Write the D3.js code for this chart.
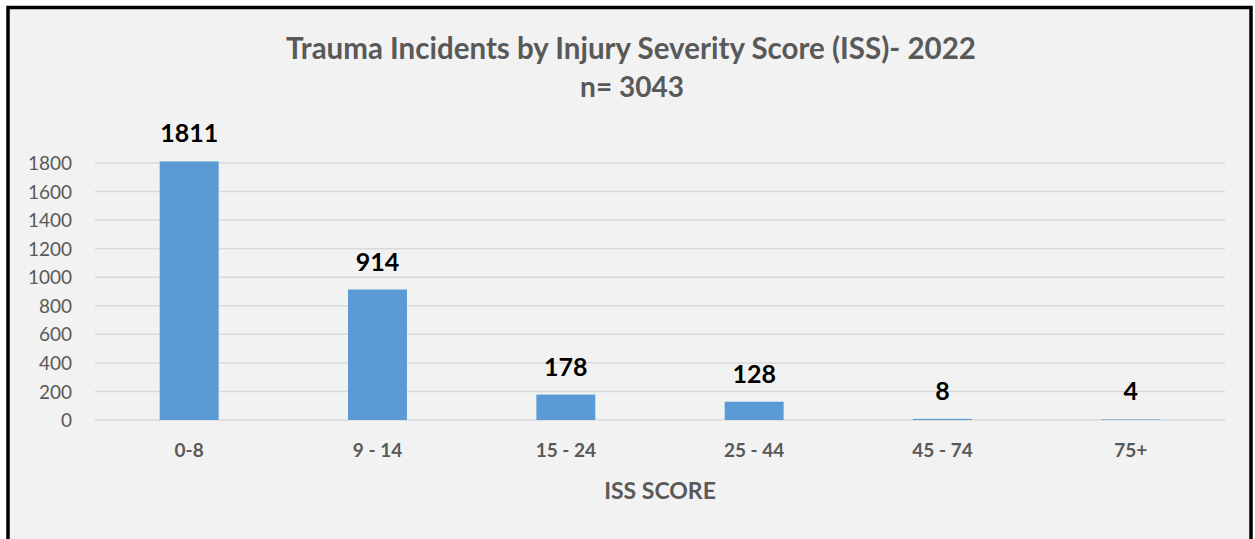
<!DOCTYPE html>
<html>
<head>
<meta charset="utf-8">
<script src="https://cdn.jsdelivr.net/npm/d3@7"></script>
<style>
  body { margin: 0; background: #fff; }
  svg text { font-family: Lato, "Open Sans", sans-serif; }
</style>
</head>
<body>
<div id="chart"></div>
<script>
const categories = ["0-8", "9 - 14", "15 - 24", "25 - 44", "45 - 74", "75+"];
const counts = [1811, 914, 178, 128, 8, 4];
const yTicks = [0, 200, 400, 600, 800, 1000, 1200, 1400, 1600, 1800];
const titleLine1 = "Trauma Incidents by Injury Severity Score (ISS)- 2022";
const titleLine2 = "n= 3043";
const xTitle = "ISS SCORE";

const W = 1255, H = 539;
const margin = {left: 95, right: 30, top: 163, bottom: 119}; // plot 95..1225, 163..420

const svg = d3.select("#chart").append("svg")
  .attr("width", W)
  .attr("height", H);

// chart frame
svg.append("rect")
  .attr("x", 8).attr("y", 7.5)
  .attr("width", 1243).attr("height", 540)
  .attr("fill", "#f2f2f2")
  .attr("stroke", "#000")
  .attr("stroke-width", 3.5);

const x = d3.scaleBand()
  .domain(categories)
  .range([margin.left, W - margin.right])
  .paddingInner(0.687)
  .paddingOuter(0.3435);

const y = d3.scaleLinear()
  .domain([0, 1800])
  .range([H - margin.bottom, margin.top]);

// gridlines
svg.append("g")
  .selectAll("line")
  .data(yTicks)
  .enter().append("line")
    .attr("x1", margin.left)
    .attr("x2", W - margin.right)
    .attr("y1", d => y(d))
    .attr("y2", d => y(d))
    .attr("stroke", "#d9d9d9")
    .attr("stroke-width", 1.5);

// y axis labels
const yAxis = svg.append("g")
  .attr("transform", "translate(" + (margin.left - 23) + ",0)")
  .call(d3.axisLeft(y).tickValues(yTicks).tickFormat(d3.format("d")).tickSize(0).tickPadding(0));
yAxis.select(".domain").remove();
yAxis.selectAll("text")
  .attr("fill", "#595959")
  .style("font-size", "19px")
  .attr("dy", "0.35em");

// bars
svg.append("g")
  .selectAll("rect")
  .data(counts)
  .enter().append("rect")
    .attr("x", (d, i) => x(categories[i]))
    .attr("y", d => y(d))
    .attr("width", x.bandwidth())
    .attr("height", d => y(0) - y(d))
    .attr("fill", "#5b9bd5");

// data labels
svg.append("g")
  .selectAll("text")
  .data(counts)
  .enter().append("text")
    .attr("x", (d, i) => x(categories[i]) + x.bandwidth() / 2)
    .attr("y", d => y(d) - 19)
    .attr("text-anchor", "middle")
    .attr("fill", "#000")
    .style("font-size", "25px")
    .style("font-weight", "bold")
    .text(d => d);

// x axis labels
const xAxis = svg.append("g")
  .attr("transform", "translate(0," + (H - margin.bottom) + ")")
  .call(d3.axisBottom(x).tickSize(0).tickPadding(24));
xAxis.select(".domain").remove();
xAxis.selectAll("text")
  .attr("fill", "#595959")
  .style("font-size", "19px")
  .style("font-weight", "bold");

// axis title
svg.append("text")
  .attr("x", (margin.left + W - margin.right) / 2)
  .attr("y", 499)
  .attr("text-anchor", "middle")
  .attr("fill", "#595959")
  .style("font-size", "23px")
  .style("font-weight", "bold")
  .text(xTitle);

// titles
svg.append("text")
  .attr("x", 631)
  .attr("y", 59)
  .attr("text-anchor", "middle")
  .attr("fill", "#595959")
  .style("font-size", "29.5px")
  .style("font-weight", "bold")
  .text(titleLine1);

svg.append("text")
  .attr("x", 632)
  .attr("y", 97)
  .attr("text-anchor", "middle")
  .attr("fill", "#595959")
  .style("font-size", "28px")
  .style("font-weight", "bold")
  .text(titleLine2);
</script>
</body>
</html>
